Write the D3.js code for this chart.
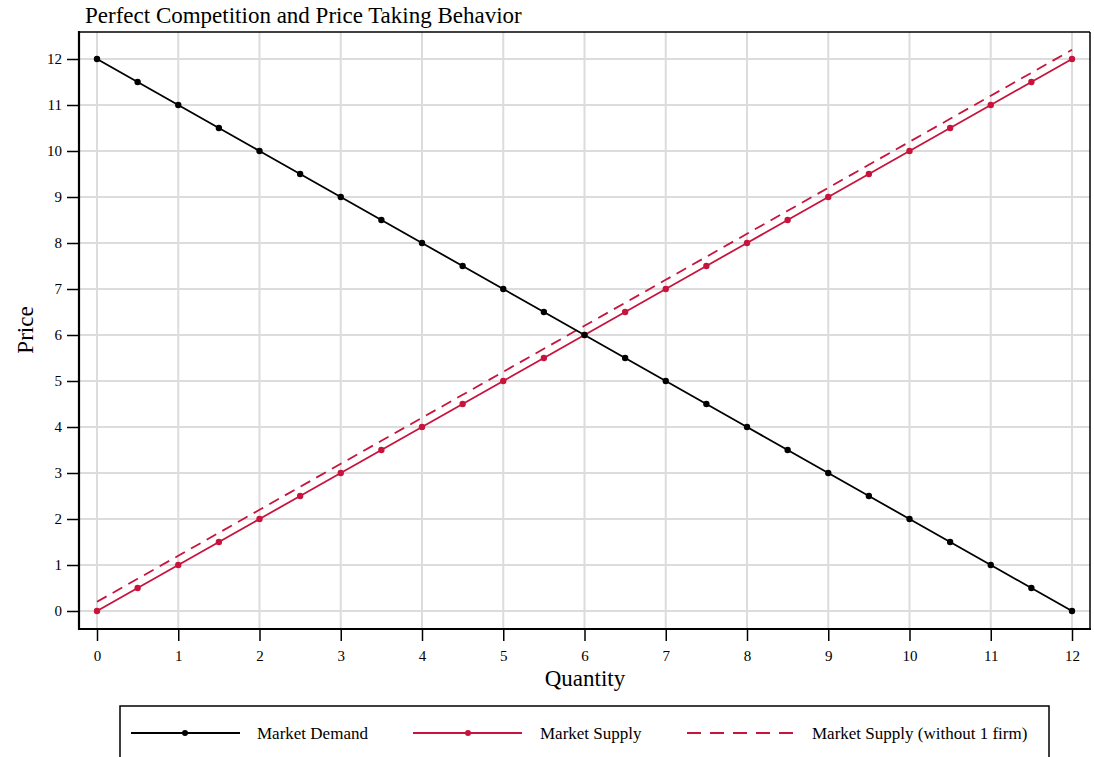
<!DOCTYPE html>
<html><head><meta charset="utf-8">
<script src="https://cdn.jsdelivr.net/npm/d3@7"></script>
<style>body{margin:0;background:#fff;} svg{display:block;font-family:"Liberation Serif","Times New Roman",serif;}</style>
</head><body><svg id="c" width="1094" height="757"></svg>
<script>
const quantity = [0,0.5,1,1.5,2,2.5,3,3.5,4,4.5,5,5.5,6,6.5,7,7.5,8,8.5,9,9.5,10,10.5,11,11.5,12];
const demand = [12,11.5,11,10.5,10,9.5,9,8.5,8,7.5,7,6.5,6,5.5,5,4.5,4,3.5,3,2.5,2,1.5,1,0.5,0];
const supply = [0,0.5,1,1.5,2,2.5,3,3.5,4,4.5,5,5.5,6,6.5,7,7.5,8,8.5,9,9.5,10,10.5,11,11.5,12];
const supplyLess = [0.2,0.7,1.2,1.7,2.2,2.7,3.2,3.7,4.2,4.7,5.2,5.7,6.2,6.7,7.2,7.7,8.2,8.7,9.2,9.7,10.2,10.7,11.2,11.7,12.2];
const xTicks = [0,1,2,3,4,5,6,7,8,9,10,11,12];
const yTicks = [0,1,2,3,4,5,6,7,8,9,10,11,12];
const seriesNames = ["Market Demand","Market Supply","Market Supply (without 1 firm)"];
const RED = "#c8143c";

const svg = d3.select("#c");
const L=79, R=1090, T=32, B=629;
const x = d3.scaleLinear().domain([0,12]).range([97,1072]);
const y = d3.scaleLinear().domain([0,12]).range([611,59]);

// grid
const g = svg.append("g");
g.selectAll(".vg").data(xTicks).enter().append("line")
 .attr("x1",d=>x(d)).attr("x2",d=>x(d)).attr("y1",T).attr("y2",B)
 .attr("stroke","#dcdcdc").attr("stroke-width",2);
g.selectAll(".hg").data(yTicks).enter().append("line")
 .attr("y1",d=>y(d)).attr("y2",d=>y(d)).attr("x1",L).attr("x2",R)
 .attr("stroke","#dcdcdc").attr("stroke-width",2);

// frame top/right
svg.append("line").attr("x1",L).attr("x2",R).attr("y1",T).attr("y2",T).attr("stroke","#000").attr("stroke-width",1.5);
svg.append("line").attr("x1",R).attr("x2",R).attr("y1",T).attr("y2",B).attr("stroke","#000").attr("stroke-width",1.5);

// axes
const xAxis = d3.axisBottom(x).tickValues(xTicks).tickSize(12).tickPadding(9).tickFormat(d3.format("d"));
const yAxis = d3.axisLeft(y).tickValues(yTicks).tickSize(12).tickPadding(5).tickFormat(d3.format("d"));
const gx = svg.append("g").attr("transform",`translate(0,${B})`).call(xAxis);
const gy = svg.append("g").attr("transform",`translate(${L},0)`).call(yAxis);
[gx,gy].forEach(a=>{
  a.select(".domain").remove();
  a.selectAll(".tick line").attr("stroke","#000").attr("stroke-width",1.5);
  a.selectAll(".tick text").attr("font-size",15).attr("fill","#000").attr("font-family","Liberation Serif, serif");
});
svg.append("line").attr("x1",L).attr("x2",L).attr("y1",T-1).attr("y2",B+1).attr("stroke","#000").attr("stroke-width",2.2);
svg.append("line").attr("x1",L-1).attr("x2",R+1).attr("y1",B).attr("y2",B).attr("stroke","#000").attr("stroke-width",2.2);

// lines
const line = d3.line().x(d=>x(d[0])).y(d=>y(d[1]));
const dDem = quantity.map((q,i)=>[q,demand[i]]);
const dSup = quantity.map((q,i)=>[q,supply[i]]);
const dLess = quantity.map((q,i)=>[q,supplyLess[i]]);
svg.append("path").datum(dLess).attr("d",line).attr("fill","none").attr("stroke",RED).attr("stroke-width",1.8).attr("stroke-dasharray","11,7");
svg.append("path").datum(dSup).attr("d",line).attr("fill","none").attr("stroke",RED).attr("stroke-width",1.8);
svg.append("path").datum(dDem).attr("d",line).attr("fill","none").attr("stroke","#000").attr("stroke-width",1.8);
svg.selectAll(".ps").data(dSup).enter().append("circle").attr("cx",d=>x(d[0])).attr("cy",d=>y(d[1])).attr("r",3.2).attr("fill",RED);
svg.selectAll(".pd").data(dDem).enter().append("circle").attr("cx",d=>x(d[0])).attr("cy",d=>y(d[1])).attr("r",3.2).attr("fill","#000");

// titles
svg.append("text").attr("x",85).attr("y",23).attr("font-size",23).text("Perfect Competition and Price Taking Behavior");
svg.append("text").attr("x",585).attr("y",686).attr("text-anchor","middle").attr("font-size",23).text("Quantity");
svg.append("text").attr("transform","translate(33,330) rotate(-90)").attr("text-anchor","middle").attr("font-size",23).text("Price");

// legend
svg.append("rect").attr("x",120).attr("y",706).attr("width",929).attr("height",70).attr("fill","none").attr("stroke","#000").attr("stroke-width",1.5);
const legX = [131,413,687];
const ly = 733;
svg.append("line").attr("x1",legX[0]).attr("x2",legX[0]+109).attr("y1",ly).attr("y2",ly).attr("stroke","#000").attr("stroke-width",2);
svg.append("circle").attr("cx",legX[0]+54).attr("cy",ly).attr("r",3).attr("fill","#000");
svg.append("line").attr("x1",legX[1]).attr("x2",legX[1]+109).attr("y1",ly).attr("y2",ly).attr("stroke",RED).attr("stroke-width",2);
svg.append("circle").attr("cx",legX[1]+55).attr("cy",ly).attr("r",3).attr("fill",RED);
svg.append("line").attr("x1",legX[2]).attr("x2",legX[2]+110).attr("y1",ly).attr("y2",ly).attr("stroke",RED).attr("stroke-width",2).attr("stroke-dasharray","14,9");
const textX = [257,540,812];
seriesNames.forEach((n,i)=>{
  svg.append("text").attr("x",textX[i]).attr("y",ly+6).attr("font-size",17).text(n);
});
</script></body></html>
